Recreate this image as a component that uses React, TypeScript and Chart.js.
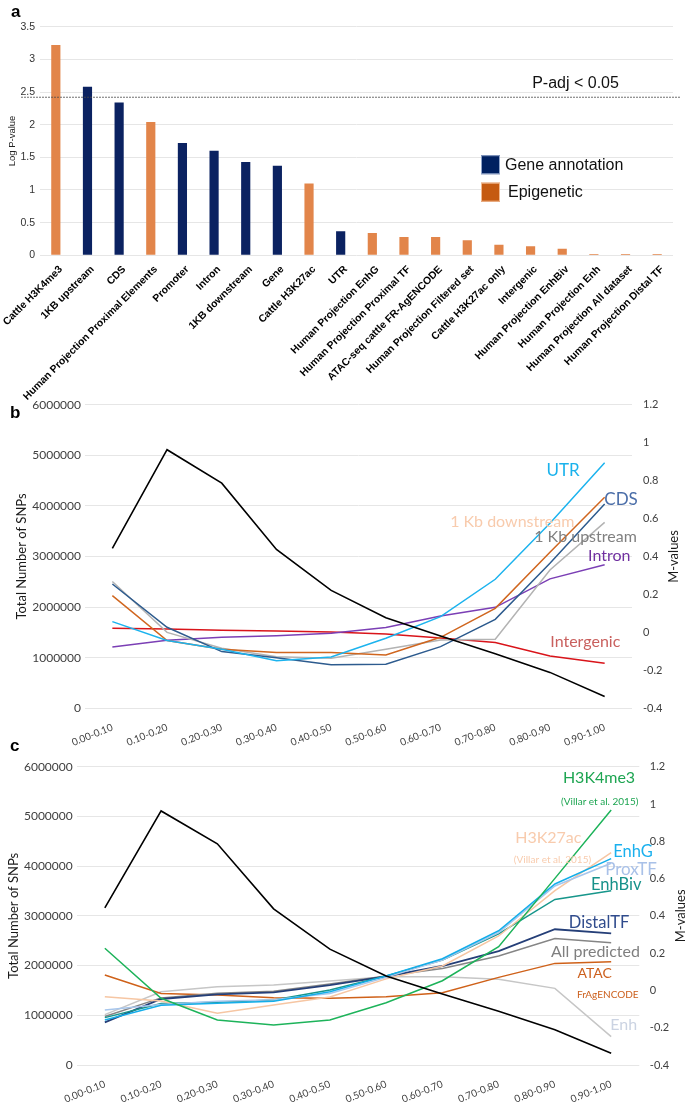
import React, { useEffect, useRef } from "react";
import { Chart, registerables } from "chart.js";

Chart.register(...registerables);

// ---------- Panel a data ----------
const annotationCategories = [
  "Cattle H3K4me3",
  "1KB upstream",
  "CDS",
  "Human Projection Proximal Elements",
  "Promoter",
  "Intron",
  "1KB downstream",
  "Gene",
  "Cattle H3K27ac",
  "UTR",
  "Human Projection EnhG",
  "Human Projection Proximal TF",
  "ATAC-seq cattle FR-AgENCODE",
  "Human Projection Filtered set",
  "Cattle H3K27ac only",
  "Intergenic",
  "Human Projection EnhBiv",
  "Human Projection Enh",
  "Human Projection All dataset",
  "Human Projection Distal TF",
];
const logPValues = [3.22, 2.58, 2.34, 2.04, 1.72, 1.6, 1.43, 1.37, 1.1, 0.37, 0.34, 0.28, 0.28, 0.23, 0.16, 0.14, 0.1, 0.02, 0.02, 0.02];
const annotationGroups = [
  "Epigenetic", "Gene annotation", "Gene annotation", "Epigenetic", "Gene annotation",
  "Gene annotation", "Gene annotation", "Gene annotation", "Epigenetic", "Gene annotation",
  "Epigenetic", "Epigenetic", "Epigenetic", "Epigenetic", "Epigenetic",
  "Epigenetic", "Epigenetic", "Epigenetic", "Epigenetic", "Epigenetic",
];
const legendGroups = ["Gene annotation", "Epigenetic"];
const pAdjThreshold = 2.42;
const pAdjLabel = "P-adj < 0.05";

// ---------- Panels b & c data ----------
const mafBins = ["0.00-0.10", "0.10-0.20", "0.20-0.30", "0.30-0.40", "0.40-0.50", "0.50-0.60", "0.60-0.70", "0.70-0.80", "0.80-0.90", "0.90-1.00"];
const totalSnps = [3160000, 5110000, 4450000, 3140000, 2330000, 1790000, 1430000, 1080000, 710000, 235000];

// panel b (M-values)
const utrM = [0.057, -0.043, -0.089, -0.149, -0.13, -0.031, 0.083, 0.28, 0.575, 0.894];
const cdsM = [0.255, 0.027, -0.101, -0.133, -0.171, -0.168, -0.075, 0.069, 0.364, 0.677];
const downstreamM = [0.194, -0.043, -0.089, -0.106, -0.106, -0.119, -0.026, 0.127, 0.422, 0.712];
const upstreamM = [0.268, 0.0, -0.084, -0.128, -0.136, -0.089, -0.04, -0.036, 0.329, 0.58];
const intronM = [-0.077, -0.041, -0.026, -0.018, -0.004, 0.026, 0.087, 0.132, 0.282, 0.357];
const intergenicM = [0.022, 0.018, 0.011, 0.007, 0.002, -0.009, -0.03, -0.053, -0.124, -0.163];

// panel c (M-values)
const h3k4me3M = [0.226, -0.042, -0.159, -0.186, -0.159, -0.066, 0.052, 0.235, 0.601, 0.968];
const h3k27acM = [-0.034, -0.057, -0.123, -0.078, -0.035, 0.062, 0.131, 0.292, 0.535, 0.739];
const enhGM = [-0.159, -0.08, -0.069, -0.058, -0.007, 0.078, 0.17, 0.32, 0.571, 0.707];
const proxTFM = [-0.105, -0.075, -0.058, -0.05, -0.016, 0.07, 0.163, 0.31, 0.56, 0.682];
const enhBivM = [-0.146, -0.07, -0.064, -0.051, 0.002, 0.078, 0.163, 0.303, 0.488, 0.535];
const distalTFM = [-0.171, -0.046, -0.021, -0.01, 0.029, 0.075, 0.131, 0.211, 0.328, 0.306];
const allPredictedM = [-0.14, -0.04, -0.015, -0.005, 0.035, 0.078, 0.118, 0.185, 0.279, 0.256];
const atacM = [0.083, -0.016, -0.025, -0.039, -0.042, -0.034, -0.012, 0.07, 0.145, 0.154];
const enhM = [-0.13, -0.007, 0.02, 0.029, 0.05, 0.074, 0.074, 0.06, 0.011, -0.248];

// ---------- styles ----------
const GRID = "#e6e6e6";
const TICK = "#404040";
const SANS = "Liberation Sans";
const CAL = "Lato";
const groupColors: Record<string, string> = { "Gene annotation": "#0b2261", Epigenetic: "#e2854a" };
const legendSwatch: Record<string, string> = { "Gene annotation": "#002060", Epigenetic: "#c55a11" };

type Lab = { text: string; color: string; size: number; at: number; value: number };

const panelBLabels: Lab[] = [
  { text: "UTR", color: "#1ab2ec", size: 17, at: 8.24, value: 0.851 },
  { text: "CDS", color: "#4a6da8", size: 17, at: 9.3, value: 0.698 },
  { text: "1 Kb downstream", color: "#f8cbad", size: 16, at: 7.31, value: 0.583 },
  { text: "1 Kb upstream", color: "#808080", size: 16, at: 8.65, value: 0.504 },
  { text: "Intron", color: "#7030a0", size: 16, at: 9.085, value: 0.404 },
  { text: "Intergenic", color: "#c9605e", size: 16, at: 8.646, value: -0.052 },
];

const panelCLabels: Lab[] = [
  { text: "H3K4me3", color: "#1ea552", size: 16, at: 8.784, value: 1.139 },
  { text: "(Villar et al. 2015)", color: "#1ea552", size: 10, at: 8.796, value: 1.012 },
  { text: "H3K27ac", color: "#f8cbad", size: 16, at: 7.883, value: 0.8175 },
  { text: "(Villar et al. 2015)", color: "#f8cbad", size: 10, at: 7.957, value: 0.6995 },
  { text: "EnhG", color: "#1ab0ee", size: 16.5, at: 9.388, value: 0.742 },
  { text: "ProxTF", color: "#a9c1e8", size: 17, at: 9.353, value: 0.651 },
  { text: "EnhBiv", color: "#16918a", size: 16.5, at: 9.089, value: 0.565 },
  { text: "DistalTF", color: "#2f4b8c", size: 16.5, at: 8.784, value: 0.363 },
  { text: "All predicted", color: "#7f7f7f", size: 16, at: 8.721, value: 0.2075 },
  { text: "ATAC", color: "#cc5f1c", size: 14, at: 8.707, value: 0.092 },
  { text: "FrAgENCODE", color: "#cc5f1c", size: 10, at: 8.94, value: -0.021 },
  { text: "Enh", color: "#cbd3e2", size: 16, at: 9.223, value: -0.186 },
];

function seriesLabelPlugin(labels: Lab[], rightTitle: string, rightTitleInset: number) {
  return {
    id: "seriesLabels",
    afterDatasetsDraw(chart: any) {
      const { ctx, chartArea } = chart;
      const xs = chart.scales.x;
      const ys = chart.scales.y1;
      ctx.save();
      ctx.textAlign = "center";
      ctx.textBaseline = "middle";
      labels.forEach((l) => {
        ctx.font = `${l.size}px ${CAL}`;
        ctx.fillStyle = l.color;
        ctx.fillText(l.text, xs.getPixelForValue(l.at), ys.getPixelForValue(l.value));
      });
      ctx.translate(chart.width - rightTitleInset, (chartArea.top + chartArea.bottom) / 2);
      ctx.rotate(-Math.PI / 2);
      ctx.font = `13px ${CAL}`;
      ctx.fillStyle = "#1a1a1a";
      ctx.fillText(rightTitle, 0, 0);
      ctx.restore();
    },
  };
}

const panelAPlugin = {
  id: "panelA",
  afterDatasetsDraw(chart: any) {
    const { ctx, chartArea } = chart;
    const ys = chart.scales.y;
    const xs = chart.scales.x;
    const yLine = ys.getPixelForValue(pAdjThreshold);
    ctx.save();
    ctx.beginPath();
    ctx.setLineDash([2, 1]);
    ctx.lineWidth = 0.8;
    ctx.strokeStyle = "#4a4a4a";
    ctx.moveTo(chartArea.left - 19, yLine);
    ctx.lineTo(chart.width - 5, yLine);
    ctx.stroke();
    ctx.setLineDash([]);
    ctx.font = `16px ${SANS}`;
    ctx.fillStyle = "#111";
    ctx.textAlign = "center";
    ctx.textBaseline = "alphabetic";
    ctx.fillText(pAdjLabel, xs.getPixelForValue(16.42), yLine - 9);
    // legend
    const lx = chartArea.left + 441;
    let ly = chartArea.top + 128.5;
    legendGroups.forEach((g, i) => {
      ctx.fillStyle = legendSwatch[g];
      ctx.fillRect(lx, ly, 19, 19);
      ctx.lineWidth = 1;
      ctx.strokeStyle = i === 0 ? "#8fa3c8" : "#f0b890";
      ctx.strokeRect(lx + 0.5, ly + 0.5, 18, 18);
      ctx.fillStyle = "#111";
      ctx.textAlign = "left";
      ctx.textBaseline = "middle";
      ctx.font = `16px ${SANS}`;
      ctx.fillText(g, lx + 24 + i * 3, ly + 10);
      ly += 27.5;
    });
    ctx.restore();
  },
};

function lineDs(label: string, data: number[], color: string, axis: string, width = 1.5) {
  return {
    label,
    data,
    yAxisID: axis,
    borderColor: color,
    backgroundColor: color,
    borderWidth: width,
    pointRadius: 0,
    tension: 0,
    fill: false,
  };
}

const fmtM = (v: any) => String(Number(Number(v).toFixed(1)));

function lineConfig(
  datasets: any[],
  labels: Lab[],
  geo: { top: number; left: number; right: number; bottom: number; titlePad: number; leftPad: number; rightPad: number; rightInset: number }
) {
  return {
    type: "line",
    data: { labels: mafBins, datasets },
    options: {
      animation: false,
      responsive: false,
      layout: { padding: { top: geo.top, left: 0, right: 0, bottom: 0 } },
      plugins: { legend: { display: false }, tooltip: { enabled: false } },
      scales: {
        x: {
          offset: true,
          grid: { display: false, offset: true },
          border: { display: false },
          ticks: {
            autoSkip: false,
            minRotation: 22,
            maxRotation: 22,
            padding: 5,
            color: TICK,
            font: { family: CAL, size: 10 },
          },
          afterFit: (s: any) => {
            s.height = geo.bottom;
            s.paddingLeft = 0;
            s.paddingRight = 0;
          },
        },
        y: {
          position: "left",
          min: 0,
          max: 6000000,
          grid: { color: GRID, drawTicks: false },
          border: { display: false },
          ticks: {
            stepSize: 1000000,
            padding: geo.leftPad,
            color: TICK,
            font: { family: CAL, size: 12 },
            callback: (v: any) => String(v),
          },
          title: {
            display: true,
            text: "Total Number of SNPs",
            color: "#1a1a1a",
            font: { family: CAL, size: 13 },
            padding: { top: geo.titlePad, bottom: 0 },
          },
          afterFit: (s: any) => {
            s.width = geo.left;
            s.paddingTop = 0;
            s.paddingBottom = 0;
          },
        },
        y1: {
          position: "right",
          min: -0.4,
          max: 1.2,
          grid: { display: false, drawTicks: false },
          border: { display: false },
          ticks: {
            stepSize: 0.2,
            padding: geo.rightPad,
            color: TICK,
            font: { family: CAL, size: 11 },
            callback: fmtM,
          },
          afterFit: (s: any) => {
            s.width = geo.right;
            s.paddingTop = 0;
            s.paddingBottom = 0;
          },
        },
      },
    },
    plugins: [seriesLabelPlugin(labels, "M-values", geo.rightInset)],
  };
}

const A_HEIGHT = 400;

export default function App() {
  const refA = useRef<HTMLCanvasElement>(null);
  const refB = useRef<HTMLCanvasElement>(null);
  const refC = useRef<HTMLCanvasElement>(null);

  useEffect(() => {
    const charts: Chart[] = [];
    const cfgA: any = {
      type: "bar",
      data: {
        labels: annotationCategories,
        datasets: [
          {
            label: "Log P-value",
            data: logPValues,
            backgroundColor: annotationGroups.map((g) => groupColors[g]),
            categoryPercentage: 1,
            barPercentage: 0.29,
          },
        ],
      },
      options: {
        animation: false,
        responsive: false,
        layout: { padding: { top: 26.7, right: 12, left: 0, bottom: 0 } },
        plugins: { legend: { display: false }, tooltip: { enabled: false } },
        scales: {
          x: {
            grid: { display: false },
            border: { display: false },
            ticks: {
              autoSkip: false,
              minRotation: 45,
              maxRotation: 45,
              padding: 0,
              labelOffset: 5,
              color: "#000",
              font: { family: SANS, size: 10.4, weight: "bold" },
            },
            afterFit: (s: any) => {
              s.height = A_HEIGHT - 255.3;
              s.paddingLeft = 0;
              s.paddingRight = 0;
            },
          },
          y: {
            min: 0,
            max: 3.5,
            grid: { color: GRID, drawTicks: false },
            border: { display: false },
            ticks: {
              stepSize: 0.5,
              padding: 5,
              color: "#333",
              font: { family: SANS, size: 10.5 },
              callback: (v: any) => String(v),
            },
            title: {
              display: true,
              text: "Log P-value",
              color: "#222",
              font: { family: SANS, size: 9.5 },
              padding: { top: 7, bottom: 0 },
            },
            afterFit: (s: any) => {
              s.width = 40;
              s.paddingTop = 0;
              s.paddingBottom = 0;
            },
          },
        },
      },
      plugins: [panelAPlugin],
    };
    charts.push(new Chart(refA.current as HTMLCanvasElement, cfgA));

    const dsB = [
      lineDs("Total SNPs", totalSnps, "#000000", "y", 1.6),
      lineDs("UTR", utrM, "#1cb3ee", "y1"),
      lineDs("CDS", cdsM, "#2d5b8e", "y1"),
      lineDs("1 Kb downstream", downstreamM, "#d0661f", "y1"),
      lineDs("1 Kb upstream", upstreamM, "#b3b3b3", "y1"),
      lineDs("Intron", intronM, "#7b3fb5", "y1"),
      lineDs("Intergenic", intergenicM, "#d9141a", "y1"),
    ];
    charts.push(
      new Chart(
        refB.current as HTMLCanvasElement,
        lineConfig(dsB, panelBLabels, {
          top: 12.7,
          left: 85,
          right: 53,
          bottom: 360 - 316.3,
          titlePad: 14,
          leftPad: 4,
          rightPad: 11,
          rightInset: 11,
        }) as any
      )
    );

    const dsC = [
      lineDs("Total SNPs", totalSnps, "#000000", "y", 1.6),
      lineDs("H3K4me3", h3k4me3M, "#1db35a", "y1"),
      lineDs("EnhG", enhGM, "#14aeea", "y1"),
      lineDs("ProxTF", proxTFM, "#a7c6ec", "y1"),
      lineDs("H3K27ac", h3k27acM, "#f6c6a3", "y1"),
      lineDs("EnhBiv", enhBivM, "#17968b", "y1"),
      lineDs("DistalTF", distalTFM, "#253f78", "y1", 1.8),
      lineDs("All predicted", allPredictedM, "#858585", "y1"),
      lineDs("ATAC FrAgENCODE", atacM, "#cf6119", "y1"),
      lineDs("Enh", enhM, "#c6c6c6", "y1"),
    ];
    charts.push(
      new Chart(
        refC.current as HTMLCanvasElement,
        lineConfig(dsC, panelCLabels, {
          top: 14.7,
          left: 76.7,
          right: 45.7,
          bottom: 354 - 313,
          titlePad: 6,
          leftPad: 4,
          rightPad: 10.5,
          rightInset: 4.5,
        }) as any
      )
    );

    return () => charts.forEach((c) => c.destroy());
  }, []);

  const letter: React.CSSProperties = {
    position: "absolute",
    left: 10,
    font: `bold 17px ${SANS}`,
    lineHeight: "17px",
    color: "#000",
  };

  return (
    <div style={{ position: "absolute", left: 0, top: 0, width: 685, height: 1106, background: "#fff", overflow: "hidden" }}>
      <canvas ref={refA} width={685} height={A_HEIGHT} style={{ position: "absolute", left: 0, top: 0, width: 685, height: A_HEIGHT }} />
      <canvas ref={refB} width={685} height={360} style={{ position: "absolute", left: 0, top: 392, width: 685, height: 360 }} />
      <canvas ref={refC} width={685} height={354} style={{ position: "absolute", left: 0, top: 752, width: 685, height: 354 }} />
      <div style={{ ...letter, top: 2.5, left: 11 }}>a</div>
      <div style={{ ...letter, top: 404 }}>b</div>
      <div style={{ ...letter, top: 737 }}>c</div>
    </div>
  );
}
